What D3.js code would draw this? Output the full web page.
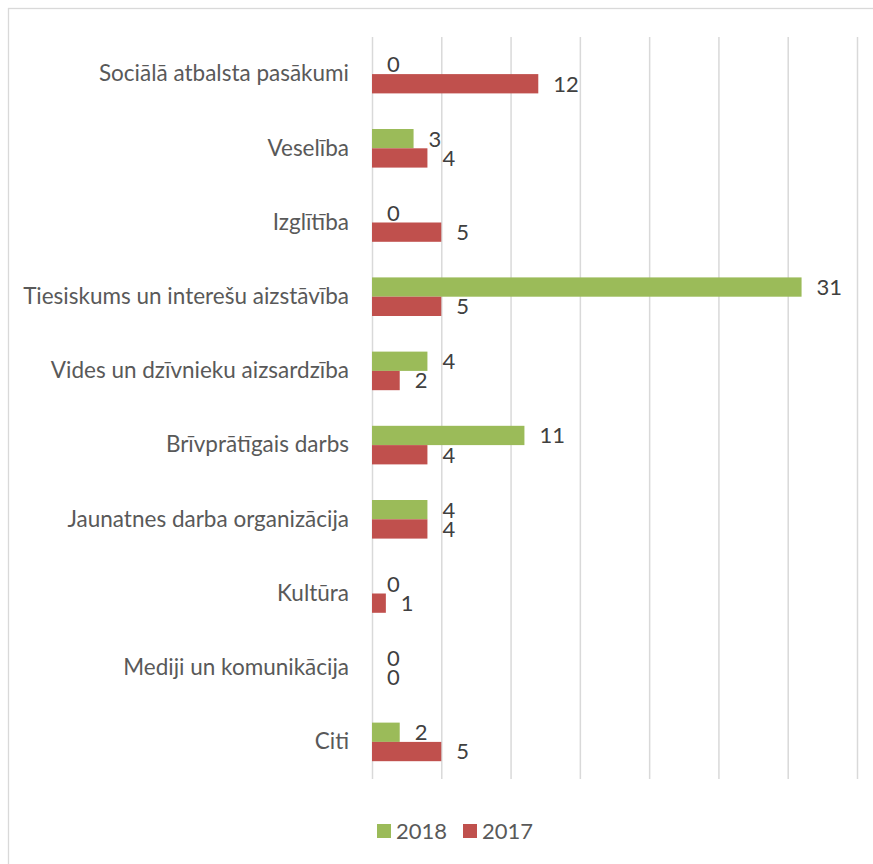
<!DOCTYPE html>
<html>
<head>
<meta charset="utf-8">
<script src="https://cdn.jsdelivr.net/npm/d3@7"></script>
<style>
  html, body { margin: 0; padding: 0; background: #fff; }
  svg { display: block; }
</style>
</head>
<body>
<svg id="chart" width="873" height="864"></svg>
<script>
const categories = [
  "Sociālā atbalsta pasākumi",
  "Veselība",
  "Izglītība",
  "Tiesiskums un interešu aizstāvība",
  "Vides un dzīvnieku aizsardzība",
  "Brīvprātīgais darbs",
  "Jaunatnes darba organizācija",
  "Kultūra",
  "Mediji un komunikācija",
  "Citi"
];
const values2018 = [0, 3, 0, 31, 4, 11, 4, 0, 0, 2];
const values2017 = [12, 4, 5, 5, 2, 4, 4, 1, 0, 5];
const seriesNames = ["2018", "2017"];
const tickValues = [0, 5, 10, 15, 20, 25, 30, 35];

const colors = { "2018": "#9BBB59", "2017": "#C0504D" };
const FONT = "Lato, 'Open Sans', sans-serif";
const FS = 22.5;
const FSV = 22;

const svg = d3.select("#chart");

// chart border
svg.append("rect")
  .attr("x", 8.5).attr("y", 8.5)
  .attr("width", 900).attr("height", 900)
  .attr("fill", "#fff")
  .attr("stroke", "#d9d9d9").attr("stroke-width", 1.3);

const x = d3.scaleLinear().domain([0, 35]).range([372, 857]);
const y = d3.scaleBand().domain(categories).range([37, 779]).padding(0);
const barH = y.bandwidth() * 0.26;

// gridlines via axis
const grid = svg.append("g")
  .attr("transform", `translate(0,779)`)
  .call(d3.axisBottom(x).tickValues(tickValues).tickSize(-(779 - 37)).tickFormat(""));
grid.select(".domain").remove();
grid.selectAll(".tick line").attr("stroke", "#d9d9d9").attr("stroke-width", 1.5);

// category labels
const yAxis = svg.append("g")
  .attr("transform", `translate(349,0)`)
  .call(d3.axisLeft(y).tickSize(0).tickPadding(0));
yAxis.select(".domain").remove();
yAxis.selectAll("text")
  .attr("font-family", FONT)
  .attr("font-size", FS)
  .attr("fill", "#595959")
  .attr("text-anchor", "end");

const rows = categories.map((c, i) => ({ c, v2018: values2018[i], v2017: values2017[i] }));

const series = [
  { name: "2018", key: "v2018", off: -barH },
  { name: "2017", key: "v2017", off: 0 }
];

series.forEach(s => {
  const g = svg.append("g");
  g.selectAll("rect").data(rows).enter().append("rect")
    .attr("x", x(0))
    .attr("y", d => y(d.c) + y.bandwidth() / 2 + s.off)
    .attr("width", d => x(d[s.key]) - x(0))
    .attr("height", barH)
    .attr("fill", colors[s.name]);
  g.selectAll("text").data(rows).enter().append("text")
    .attr("x", d => x(d[s.key]) + 15)
    .attr("y", d => y(d.c) + y.bandwidth() / 2 + s.off + barH / 2)
    .attr("dy", "0.36em")
    .attr("font-family", FONT)
    .attr("font-size", FSV)
    .attr("fill", "#404040")
    .text(d => d[s.key]);
});

// legend
const legend = svg.append("g");
const legendItems = [
  { name: seriesNames[0], x: 377 },
  { name: seriesNames[1], x: 463 }
];
legendItems.forEach(it => {
  legend.append("rect")
    .attr("x", it.x).attr("y", 824)
    .attr("width", 14).attr("height", 14)
    .attr("fill", colors[it.name]);
  legend.append("text")
    .attr("x", it.x + 19).attr("y", 831)
    .attr("dy", "0.36em")
    .attr("font-family", FONT)
    .attr("font-size", FSV)
    .attr("fill", "#595959")
    .text(it.name);
});
</script>
</body>
</html>
